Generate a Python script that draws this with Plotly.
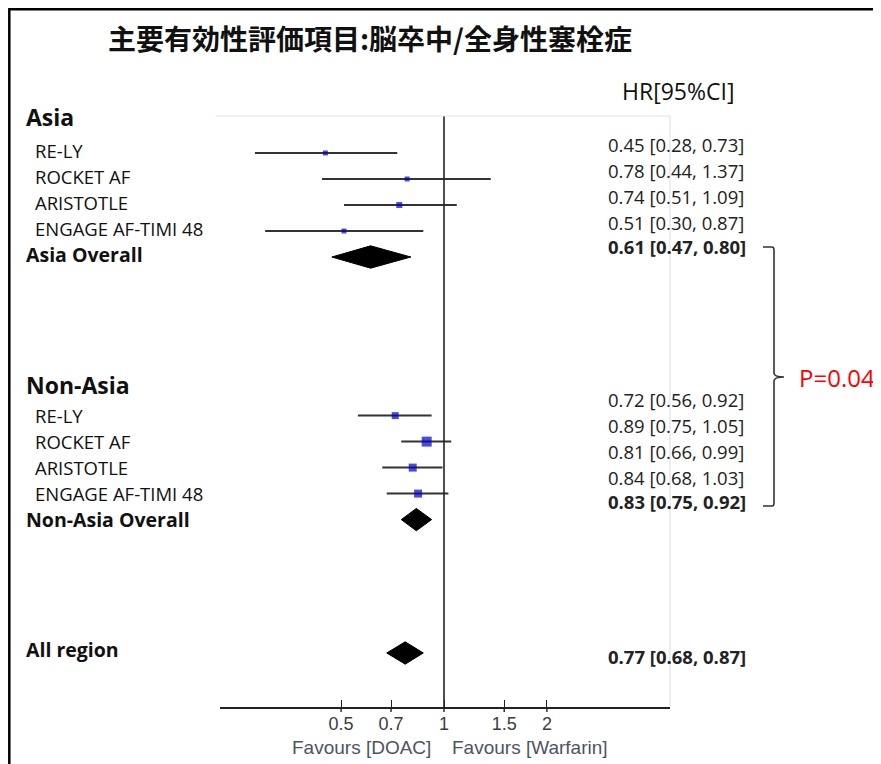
import plotly.graph_objects as go
import numpy as np

# ---------------- data ----------------
title_text = "主要有効性評価項目:脳卒中/全身性塞栓症"
studies = ["RE-LY", "ROCKET AF", "ARISTOTLE", "ENGAGE AF-TIMI 48"]

asia_hr = [0.45, 0.78, 0.74, 0.51]
asia_lo = [0.28, 0.44, 0.51, 0.30]
asia_hi = [0.73, 1.37, 1.09, 0.87]
asia_overall = [0.61, 0.47, 0.80]      # HR, lo, hi

nonasia_hr = [0.72, 0.89, 0.81, 0.84]
nonasia_lo = [0.56, 0.75, 0.66, 0.68]
nonasia_hi = [0.92, 1.05, 0.99, 1.03]
nonasia_overall = [0.83, 0.75, 0.92]

all_overall = [0.77, 0.68, 0.87]

tick_vals = [0.5, 0.7, 1, 1.5, 2]
tick_text = ["0.5", "0.7", "1", "1.5", "2"]
p_value_text = "P=0.04"

# ---------------- layout helpers ----------------
W, H = 881, 764
OFF = 8                                   # page body margin
L, R, T, B = 220, 670, 116, 707          # plot area in screen pixels
ROW0_PX, ROW_PX = 153, 26                # first row pixel, pixel per row


def pxx(px):
    return (px - L) / (R - L)


def pxy(py):
    return (B - py) / (B - T)


y_top = (T - ROW0_PX) / ROW_PX
y_bot = (B - ROW0_PX) / ROW_PX

asia_start = 0.0
nonasia_start = 10.1
all_row = 19.23
asia_rows = [asia_start + i for i in range(len(studies))]
asia_ov_row = asia_start + len(studies)
non_rows = [nonasia_start + i for i in range(len(studies))]
non_ov_row = nonasia_start + len(studies)

asia_sizes = [5, 5, 6, 5]
non_sizes = [7, 10, 8, 8]

TEXT_FONT = "Open Sans, Noto Sans, sans-serif"
AX_FONT = "Liberation Sans, Arial, sans-serif"
CI_COLOR = "#333333"
SQ_COLOR = "#0000c8"

fig = go.Figure()


def ci_trace(hr, lo, hi, rows):
    xs, ys = [], []
    for l_, h_, r_ in zip(lo, hi, rows):
        xs += [l_, h_, None]
        ys += [r_, r_, None]
    fig.add_trace(go.Scatter(x=xs, y=ys, mode="lines",
                             line=dict(color=CI_COLOR, width=2),
                             hoverinfo="skip", showlegend=False))


def sq_trace(hr, rows, sizes):
    fig.add_trace(go.Scatter(x=hr, y=rows, mode="markers",
                             marker=dict(symbol="square", color=SQ_COLOR,
                                         size=sizes, line=dict(width=0)),
                             showlegend=False))


def diamond(vals, row, hh=0.43):
    est, lo, hi = vals
    fig.add_trace(go.Scatter(x=[lo, est, hi, est, lo],
                             y=[row, row - hh, row, row + hh, row],
                             mode="lines", fill="toself",
                             fillcolor="black", line=dict(color="black", width=1),
                             hoverinfo="skip", showlegend=False))


ci_trace(asia_hr, asia_lo, asia_hi, asia_rows)
sq_trace(asia_hr, asia_rows, asia_sizes)
diamond(asia_overall, asia_ov_row)

ci_trace(nonasia_hr, nonasia_lo, nonasia_hi, non_rows)
sq_trace(nonasia_hr, non_rows, non_sizes)
diamond(nonasia_overall, non_ov_row)

diamond(all_overall, all_row)

annotations = []


def left_text(text, row, px, size, bold=False, yshift=0):
    annotations.append(dict(
        x=pxx(px), xref="paper", y=row, yref="y", xanchor="left", yanchor="middle",
        text=f"<b>{text}</b>" if bold else text, showarrow=False, yshift=yshift,
        font=dict(family=TEXT_FONT, size=size, color="#111111")))


def hr_text(vals, row, bold=False, yshift=0):
    est, lo, hi = vals
    s = f"{est:.2f} [{lo:.2f}, {hi:.2f}]"
    annotations.append(dict(
        x=pxx(606), xref="paper", y=row, yref="y", xanchor="left", yanchor="middle",
        text=f"<b>{s}</b>" if bold else s, showarrow=False, yshift=yshift,
        font=dict(family=TEXT_FONT, size=18.5, color="#222222")))


NAME_SIZE = 18.5
HEAD_SIZE = 23
OV_SIZE = 19.5

# group headers and study names
left_text("Asia", -1.385, 24, HEAD_SIZE, bold=True)
for s, r in zip(studies, asia_rows):
    left_text(s, r, 33, NAME_SIZE, yshift=3)
left_text("Asia Overall", asia_ov_row, 24, OV_SIZE, bold=True, yshift=3)

left_text("Non-Asia", 8.92, 24, HEAD_SIZE, bold=True)
for s, r in zip(studies, non_rows):
    left_text(s, r, 33, NAME_SIZE)
left_text("Non-Asia Overall", non_ov_row, 24, OV_SIZE, bold=True)

left_text("All region", all_row, 24, OV_SIZE, bold=True, yshift=3)

# HR labels
for h, l_, hi_, r in zip(asia_hr, asia_lo, asia_hi, asia_rows):
    hr_text([h, l_, hi_], r, yshift=9)
hr_text(asia_overall, asia_ov_row, bold=True, yshift=11)
for h, l_, hi_, r in zip(nonasia_hr, nonasia_lo, nonasia_hi, non_rows):
    hr_text([h, l_, hi_], r, yshift=16)
hr_text(nonasia_overall, non_ov_row, bold=True, yshift=18)
hr_text(all_overall, all_row, bold=True, yshift=-4)

# header HR[95%CI]
annotations.append(dict(x=pxx(678), xref="paper", y=pxy(91), yref="paper",
                        text="HR[95%CI]", showarrow=False, xanchor="center", yanchor="middle",
                        font=dict(family=TEXT_FONT, size=23, color="#111111")))

# title
annotations.append(dict(x=pxx(370), xref="paper", y=pxy(38), yref="paper",
                        text=f"<b>{title_text}</b>", showarrow=False,
                        xanchor="center", yanchor="middle",
                        font=dict(family="Noto Sans CJK JP", size=28, color="#111111")))

# favours labels
annotations.append(dict(x=0, xref="x", y=pxy(747), yref="paper", xshift=-11,
                        text="Favours [DOAC]", showarrow=False, xanchor="right",
                        yanchor="middle",
                        font=dict(family=AX_FONT, size=19, color="#4d5366")))
annotations.append(dict(x=0, xref="x", y=pxy(747), yref="paper", xshift=6,
                        text="Favours [Warfarin]", showarrow=False, xanchor="left",
                        yanchor="middle",
                        font=dict(family=AX_FONT, size=19, color="#4d5366")))

# P value
annotations.append(dict(x=pxx(797), xref="paper", y=pxy(377), yref="paper",
                        text=p_value_text, showarrow=False, xanchor="left", yanchor="middle",
                        font=dict(family=TEXT_FONT, size=24, color="#ff0000")))

shapes = []
# reference line at HR = 1
shapes.append(dict(type="line", xref="x", yref="paper", x0=1, x1=1, y0=0, y1=1,
                   line=dict(color="#222222", width=1.6)))
# tick marks crossing below the axis line
for tv in tick_vals:
    shapes.append(dict(type="line", xref="x", yref="paper", x0=tv, x1=tv,
                       y0=0, y1=pxy(B + 5), line=dict(color="#222222", width=1.4)))
# faint top/right borders of plot area
shapes.append(dict(type="line", xref="paper", yref="paper", x0=-0.01, x1=1, y0=1, y1=1,
                   line=dict(color="#e4e4e4", width=1)))
shapes.append(dict(type="line", xref="paper", yref="paper", x0=1, x1=1, y0=0, y1=1,
                   line=dict(color="#dddddd", width=1)))
# outer frame (top and left)
shapes.append(dict(type="line", xref="paper", yref="paper", x0=pxx(OFF + 1.3), x1=pxx(W + 20),
                   y0=pxy(OFF + 1.3), y1=pxy(OFF + 1.3), line=dict(color="black", width=2.5)))
shapes.append(dict(type="line", xref="paper", yref="paper", x0=pxx(OFF + 1.3), x1=pxx(OFF + 1.3),
                   y0=pxy(OFF), y1=pxy(H + 20), line=dict(color="black", width=2.5)))
# bracket
bx0, bx1, btip = 763, 774, 784
by0, bmid, by1 = 247, 377, 506
path = (f"M {pxx(bx0)},{pxy(by0)} L {pxx(bx1 - 2)},{pxy(by0)} "
        f"Q {pxx(bx1)},{pxy(by0)} {pxx(bx1)},{pxy(by0 + 3)} "
        f"L {pxx(bx1)},{pxy(bmid - 4)} Q {pxx(bx1)},{pxy(bmid)} {pxx(btip)},{pxy(bmid)} "
        f"Q {pxx(bx1)},{pxy(bmid)} {pxx(bx1)},{pxy(bmid + 4)} "
        f"L {pxx(bx1)},{pxy(by1 - 3)} Q {pxx(bx1)},{pxy(by1)} {pxx(bx1 - 2)},{pxy(by1)} "
        f"L {pxx(bx0)},{pxy(by1)}")
shapes.append(dict(type="path", xref="paper", yref="paper", path=path,
                   line=dict(color="#333333", width=1.6)))

px_per_decade = 342.0
x_range = [(L - 444) / px_per_decade, (R - 444) / px_per_decade]

fig.update_layout(
    width=W, height=H,
    margin=dict(l=L - OFF, r=W - (R - OFF), t=T - OFF, b=H - (B - OFF), pad=0),
    paper_bgcolor="white", plot_bgcolor="white",
    showlegend=False,
    annotations=annotations,
    shapes=shapes,
    xaxis=dict(type="log", range=x_range, tickvals=tick_vals, ticktext=tick_text,
               showgrid=False, zeroline=False, showline=True, linecolor="#222222",
               linewidth=1.6, ticks="inside", ticklen=7, tickwidth=1.4,
               tickcolor="#222222",
               tickfont=dict(family=AX_FONT, size=18, color="#3c3c3c")),
    yaxis=dict(range=[y_bot, y_top], showgrid=False, zeroline=False,
               showticklabels=False, showline=False, ticks=""),
)

fig.write_html("out.html")
